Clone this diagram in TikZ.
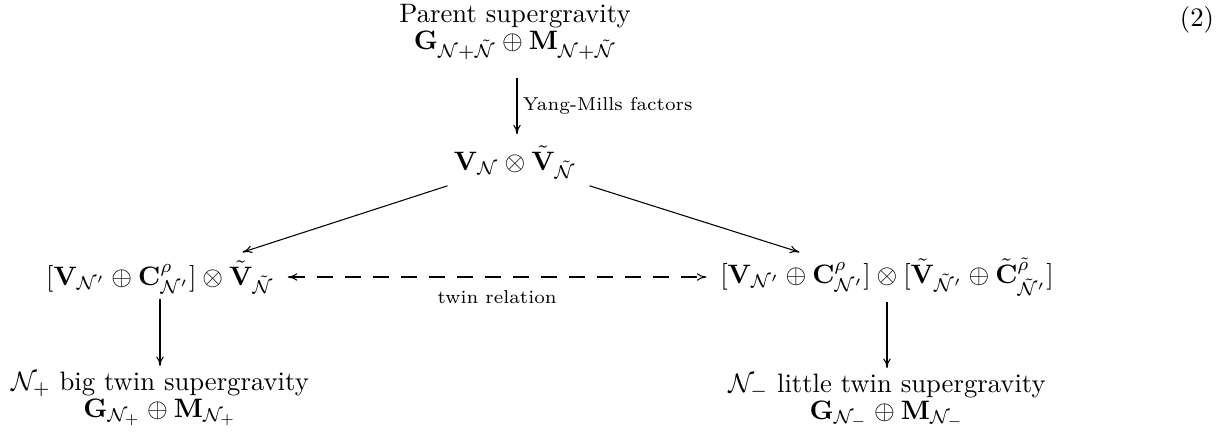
\documentclass[tikz,border=0pt]{standalone}
\usepackage{amsmath,amssymb}
\usetikzlibrary{arrows.meta}
\begin{document}
\begin{tikzpicture}[x=0.375pt,y=-0.375pt,
  obj/.style={inner sep=1pt,align=center},
  arr/.style={-{To[length=3.6pt,width=2.8pt]},line width=0.4pt,shorten >=1pt,shorten <=1pt},
  lbl/.style={font=\scriptsize,inner sep=2pt}]
\useasboundingbox (0,0) rectangle (1217,436);
\node[obj] (P) at (515,32) {Parent supergravity\\[-2pt] $\mathbf{G}_{\mathcal{N}+\tilde{\mathcal{N}}}\oplus\mathbf{M}_{\mathcal{N}+\tilde{\mathcal{N}}}$};
\node[obj] (V) at (515,162) {$\mathbf{V}_{\mathcal{N}}\otimes\tilde{\mathbf{V}}_{\tilde{\mathcal{N}}}$};
\node[obj] (L) at (160,277) {$[\mathbf{V}_{\mathcal{N}'}\oplus\mathbf{C}^{\rho}_{\mathcal{N}'}]\otimes\tilde{\mathbf{V}}_{\tilde{\mathcal{N}}}$};
\node[obj] (R) at (887,277) {$[\mathbf{V}_{\mathcal{N}'}\oplus\mathbf{C}^{\rho}_{\mathcal{N}'}]\otimes[\tilde{\mathbf{V}}_{\tilde{\mathcal{N}}'}\oplus\tilde{\mathbf{C}}^{\tilde{\rho}}_{\tilde{\mathcal{N}}'}]$};
\node[obj] (BL) at (160,399) {$\mathcal{N}_+$ big twin supergravity\\[-2pt] $\mathbf{G}_{\mathcal{N}_+}\oplus\mathbf{M}_{\mathcal{N}_+}$};
\node[obj] (BR) at (887,401) {$\mathcal{N}_-$ little twin supergravity\\[-2pt] $\mathbf{G}_{\mathcal{N}_-}\oplus\mathbf{M}_{\mathcal{N}_-}$};
\node (eq) at (1197,20) {(2)};
\coordinate (Pb) at (517,75);
\coordinate (Vt) at (517,137);
\coordinate (Vl) at (450,185);
\coordinate (Vr) at (587,185);
\coordinate (Lt) at (240,253);
\coordinate (Rt) at (802,253);
\draw[arr] (Pb) -- node[lbl,right] {Yang-Mills factors} (Vt);
\draw[arr] (Vl) -- (Lt);
\draw[arr] (Vr) -- (Rt);
\draw[arr,{To[length=3.6pt,width=2.8pt]}-{To[length=3.6pt,width=2.8pt]},dash pattern=on 6pt off 4.5pt,shorten <=4pt,shorten >=4pt] (L.east) -- node[lbl,below=3pt] {twin relation} (R.west);
\draw[arr] (L.south) -- (BL.north);
\draw[arr] (R.south) -- (BR.north);
\end{tikzpicture}
\end{document}
